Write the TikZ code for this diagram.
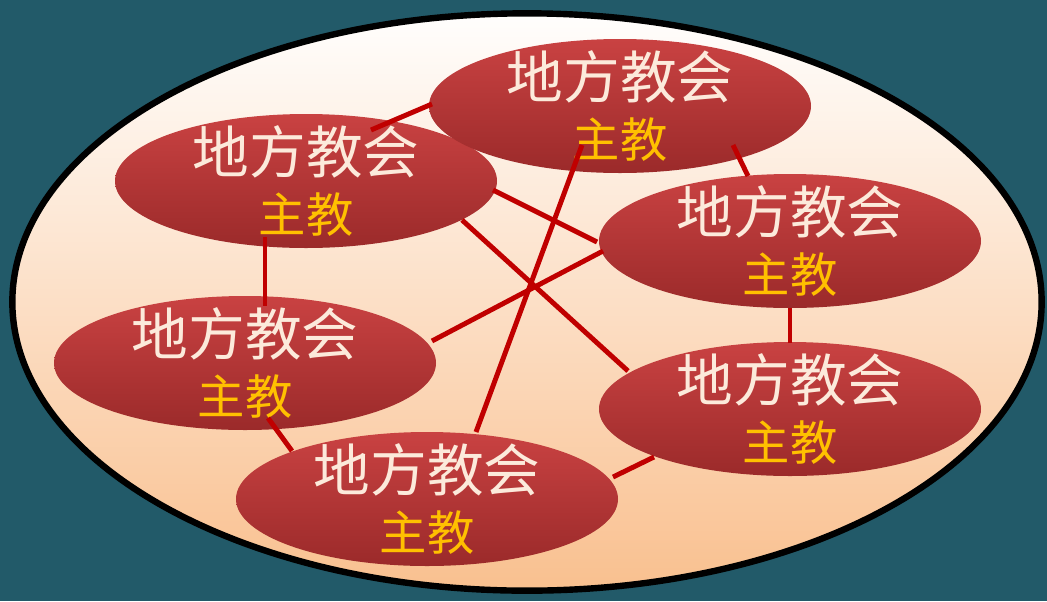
\documentclass[tikz,border=0pt]{standalone}
\usepackage{fontspec}
\newfontfamily\cjk{Noto Sans CJK SC}
\usetikzlibrary{shapes.geometric,calc}
\definecolor{bgteal}{HTML}{225A69}
\definecolor{ovaltop}{HTML}{FFFEFD}
\definecolor{ovalbot}{HTML}{F9C08F}
\definecolor{redtop}{HTML}{C94242}
\definecolor{redbot}{HTML}{9B2A2A}
\definecolor{lighttext}{HTML}{FCEADB}
\definecolor{goldtext}{HTML}{FFC000}
\definecolor{linkred}{HTML}{C00000}
\tikzset{
  church/.style={ellipse, inner sep=0pt, minimum width=286.5pt, minimum height=100.5pt,
    top color=redtop, bottom color=redbot, draw=none},
  titletext/.style={inner sep=0pt, text=lighttext, font=\cjk\fontsize{42.5}{44}\selectfont},
  roletext/.style={inner sep=0pt, text=goldtext, font=\cjk\fontsize{35.5}{37}\selectfont},
  link/.style={draw=linkred, line width=3.7pt}
}
\newcommand\churchnode[2]{%
  \node[church] (#1) at (#2) {};
  \node[titletext] (#1t) at ($(#1)+(0,-29)$) {地方教会};
  \node[roletext] (#1r) at ($(#1)+(0,34)$) {主教};
}
\begin{document}
\begin{tikzpicture}[x=0.75pt, y=-0.75pt]
\useasboundingbox (0,0) rectangle (1047,601);
\fill[bgteal] (0,0) rectangle (1047,601);
\draw[line width=4.8pt, black, top color=ovaltop, bottom color=ovalbot]
  (527,302) ellipse [x radius=386pt, y radius=216.5pt];
\coordinate (oval) at (527,302);

\churchnode{n1}{306,181}
\churchnode{n2}{620,106}
\churchnode{n3}{790,241}
\churchnode{n4}{245,363}
\churchnode{n5}{790,409}
\churchnode{n6}{427,499}

% connectors
\draw[link] ($(n1)+(65,-51)$) -- ($(n2)+(-188,-2)$);
\draw[link] ($(n1)+(-41,56)$) -- ($(n4)+(20,-57)$);
\draw[link] ($(n1)+(156,39)$) -- ($(n5)+(-162,-38)$);
\draw[link] ($(n1)+(187,9)$) -- ($(n3)+(-193,1)$);
\draw[link] ($(n4)+(187,-22)$) -- ($(n3)+(-187,10)$);
\draw[link] ($(n2)+(-38,39)$) -- ($(n6)+(49,-67)$);
\draw[link] ($(n2)+(113,39)$) -- ($(n3)+(-42,-65)$);
\draw[link] ($(n3)+(0,67)$) -- ($(n5)+(0,-66)$);
\draw[link] ($(n4)+(23,55)$) -- ($(n6)+(-135,-48)$);
\draw[link] ($(n6)+(186,-22)$) -- ($(n5)+(-136,48)$);
\end{tikzpicture}
\end{document}
